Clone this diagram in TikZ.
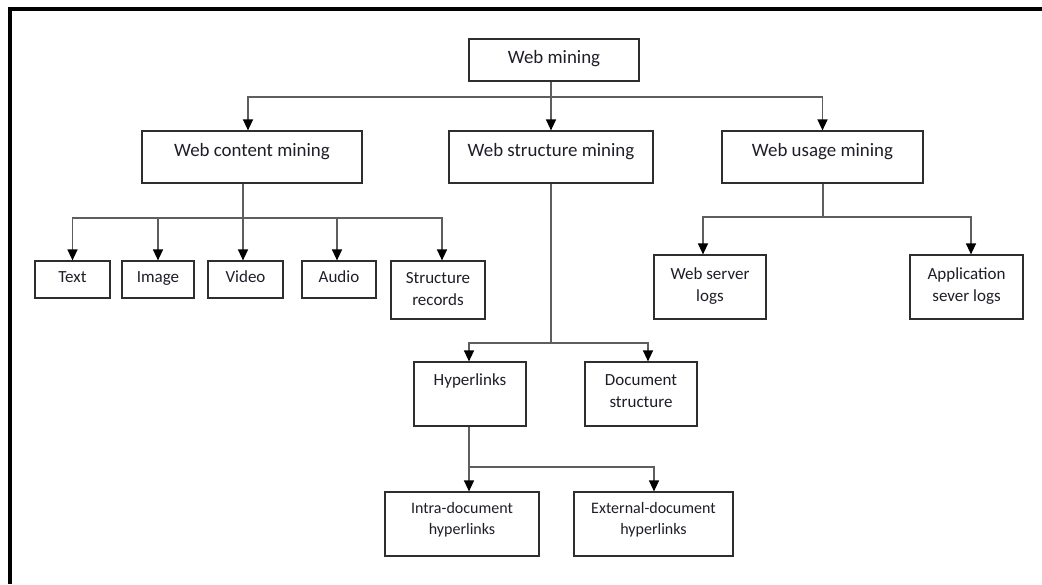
\documentclass[tikz,border=0pt]{standalone}
\usepackage{fontspec}
\setmainfont{Carlito}
\usetikzlibrary{arrows.meta}
\definecolor{conn}{HTML}{5E5E5E}
\definecolor{boxc}{HTML}{2E2E2E}
\definecolor{txt}{HTML}{1E1E28}
\begin{document}
\begin{tikzpicture}[x=1pt,y=-1pt,
  box/.style={draw=boxc, line width=1.2pt, rectangle, inner sep=0pt, fill=white},
  lbl/.style={anchor=base, align=center, text=txt, inner sep=0pt},
  big/.style={font=\fontsize{18.9}{22}\selectfont},
  mid/.style={font=\fontsize{17}{22}\selectfont},
  sml/.style={font=\fontsize{16}{21}\selectfont},
  line/.style={draw=conn, line width=1.4pt},
  arr/.style={line, -{Triangle[width=10pt,length=11pt,color=black]}}]
\useasboundingbox (0,0) rectangle (1042,584);
\fill[white] (0,0) rectangle (1042,584);
\fill[black] (8,7) rectangle (1042,11);
\fill[black] (8,7) rectangle (12,584);

% boxes
\node[box, minimum width=170pt, minimum height=42pt] (wm) at (554,60) {};
\node[box, minimum width=220pt, minimum height=52pt] (wcm) at (252,157) {};
\node[box, minimum width=204pt, minimum height=52pt] (wsm) at (551,157) {};
\node[box, minimum width=201pt, minimum height=52pt] (wum) at (822.5,157) {};
\node[box, minimum width=75pt, minimum height=37pt] (text) at (72.5,279.5) {};
\node[box, minimum width=72pt, minimum height=37pt] (image) at (158,279.5) {};
\node[box, minimum width=75pt, minimum height=37pt] (video) at (245.5,279.5) {};
\node[box, minimum width=74pt, minimum height=37pt] (audio) at (339,279.5) {};
\node[box, minimum width=94pt, minimum height=58pt] (strec) at (438,290) {};
\node[box, minimum width=112pt, minimum height=64pt] (wsl) at (710,287) {};
\node[box, minimum width=113pt, minimum height=64pt] (asl) at (966.5,287) {};
\node[box, minimum width=112pt, minimum height=64pt] (hyp) at (470,394) {};
\node[box, minimum width=112pt, minimum height=64pt] (doc) at (641,394) {};
\node[box, minimum width=154pt, minimum height=64pt] (intra) at (462,524) {};
\node[box, minimum width=159pt, minimum height=64pt] (ext) at (653.5,524) {};

% texts (base anchor = baseline of the last line)
\node[lbl,big] (wmT) at (554,63.3) {Web mining};
\node[lbl,big] (wcmT) at (252,156.7) {Web content mining};
\node[lbl,big] (wsmT) at (551,156.7) {Web structure mining};
\node[lbl,big] (wumT) at (822.5,156.7) {Web usage mining};
\node[lbl,mid] (textT) at (72.5,282.7) {Text};
\node[lbl,mid] (imageT) at (158,282.7) {Image};
\node[lbl,mid] (videoT) at (245.5,282.7) {Video};
\node[lbl,mid] (audioT) at (339,282.7) {Audio};
\node[lbl,mid] (strecT) at (438,305) {Structure\\records};
\node[lbl,mid] (wslT) at (710,301) {Web server\\logs};
\node[lbl,mid] (aslT) at (966.5,301) {Application\\sever logs};
\node[lbl,mid] (hypT) at (470,385) {Hyperlinks};
\node[lbl,mid] (docT) at (641,407.3) {Document\\structure};
\node[lbl,sml] (intraT) at (462,534) {Intra-document\\hyperlinks};
\node[lbl,sml] (extT) at (653.5,534) {External-document\\hyperlinks};

% connectors
\coordinate (j0) at (551,97);
\draw[line] (wsm.north |- wm.south) -- (j0);
\draw[arr] (j0) -- (wsm.north);
\draw[arr] (j0) -| ([xshift=-4pt]wcm.north);
\draw[arr] (j0) -| (wum.north);

\coordinate (j1) at (243,218);
\draw[line] ([xshift=-9pt]wcm.south) -- (j1);
\draw[arr] (j1) -| (text.north);
\draw[arr] (j1) -| (image.north);
\draw[arr] (j1) -| ([xshift=-2.5pt]video.north);
\draw[arr] (j1) -| ([xshift=-2pt]audio.north);
\draw[arr] (j1) -| ([xshift=4pt]strec.north);

\coordinate (j2) at (551,343);
\draw[line] (wsm.south) -- (j2);
\draw[arr] (j2) -| ([xshift=-1pt]hyp.north);
\draw[arr] (j2) -| ([xshift=7pt]doc.north);

\coordinate (j3) at (469,467);
\draw[line] ([xshift=-1pt]hyp.south) -- (j3);
\draw[arr] (j3) -| ([xshift=7pt]intra.north);
\draw[arr] (j3) -| ([xshift=0.5pt]ext.north);

\coordinate (j4) at (823,217);
\draw[line] ([xshift=0.5pt]wum.south) -- (j4);
\draw[arr] (j4) -| ([xshift=-7pt]wsl.north);
\draw[arr] (j4) -| ([xshift=4.5pt]asl.north);
\end{tikzpicture}
\end{document}
